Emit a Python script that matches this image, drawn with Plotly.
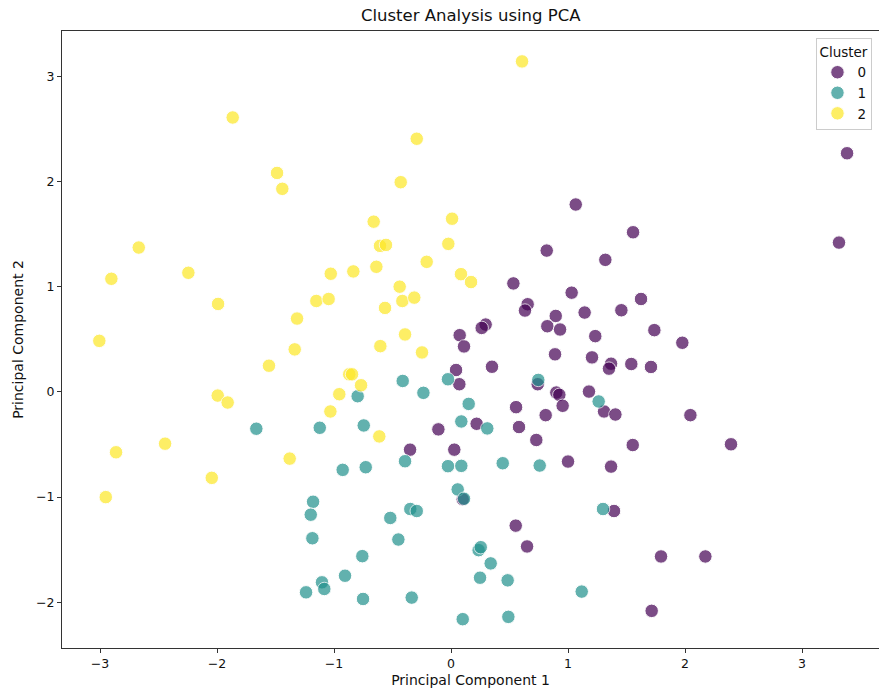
import plotly.graph_objects as go

# Cluster 0 (purple)
c0_x = [0.074, 0.111, 0.889, 1.205, 1.233, 1.368, 1.350, 0.350, 0.043, 0.071,
        0.741, 0.900, 0.926, 0.954, 1.179, 1.308, 1.405, 0.556, 0.809, 0.581,
        0.219, -0.108, 0.729, -0.350, 0.028, 1.000, 1.368, 1.393, 0.553, 0.650,
        0.100, 1.977, 1.541, 1.709, 2.046, 1.553, 2.393, 1.795, 2.174, 1.715,
        3.385, 3.316, 1.556, 1.319, 1.624, 1.456, 1.738, 1.066, 0.818, 0.533,
        1.031, 0.655, 0.632, 0.895, 0.823, 0.932, 1.142, 0.296, 0.262]
c0_y = [0.539, 0.432, 0.357, 0.328, 0.530, 0.268, 0.221, 0.239, 0.208, 0.073,
        0.073, -0.006, -0.028, -0.132, 0.003, -0.186, -0.215, -0.145, -0.221, -0.334,
        -0.303, -0.356, -0.457, -0.549, -0.549, -0.662, -0.710, -1.132, -1.271, -1.469,
        -1.020, 0.467, 0.265, 0.237, -0.221, -0.505, -0.498, -1.564, -1.564, -2.081,
        2.268, 1.419, 1.517, 1.255, 0.883, 0.776, 0.587, 1.781, 1.343, 1.031,
        0.943, 0.833, 0.773, 0.722, 0.624, 0.593, 0.754, 0.640, 0.608]

# Cluster 1 (teal)
c1_x = [-0.798, -1.664, -1.122, -0.746, -0.926, -0.729, -1.179, -1.199, -1.185, -0.906,
        -1.103, -1.083, -1.239, -0.752, -0.758, -0.413, -0.236, -0.026, 0.151, 0.088,
        0.310, -0.393, -0.026, 0.088, 0.442, 0.758, 0.746, 1.262, 0.057, 0.111,
        -0.348, -0.293, -0.519, -0.450, -0.336, 0.236, 0.254, 0.339, 0.248, 0.484,
        0.100, 0.490, 1.117, 1.299]
c1_y = [-0.041, -0.350, -0.341, -0.319, -0.741, -0.716, -1.044, -1.167, -1.391, -1.747,
        -1.810, -1.873, -1.905, -1.968, -1.561, 0.104, -0.009, 0.120, -0.114, -0.281,
        -0.347, -0.659, -0.706, -0.703, -0.678, -0.700, 0.114, -0.091, -0.927, -1.015,
        -1.113, -1.132, -1.198, -1.403, -1.955, -1.504, -1.476, -1.630, -1.766, -1.791,
        -2.160, -2.138, -1.898, -1.113]

# Cluster 2 (yellow)
c2_x = [-1.866, -1.487, -1.442, -2.669, -2.903, -2.245, -1.991, -1.316, -1.151, -1.046,
        -1.028, -0.835, -3.006, -1.336, -1.556, -0.870, -0.846, -0.769, -1.994, -1.909,
        -0.955, -1.031, -2.863, -2.444, -1.379, -2.045, -2.951, -0.393, -0.604, -0.248,
        -0.613, 0.607, -0.293, -0.430, -0.661, 0.009, -0.607, -0.556, -0.023, -0.638,
        -0.208, 0.085, 0.171, -0.439, -0.416, -0.314, -0.564]
c2_y = [2.608, 2.081, 1.930, 1.372, 1.075, 1.132, 0.836, 0.697, 0.864, 0.883,
        1.123, 1.145, 0.485, 0.404, 0.249, 0.167, 0.167, 0.063, -0.035, -0.101,
        -0.022, -0.186, -0.574, -0.492, -0.634, -0.817, -1.000, 0.546, 0.435, 0.375,
        -0.423, 3.141, 2.406, 1.993, 1.618, 1.646, 1.388, 1.397, 1.407, 1.189,
        1.236, 1.119, 1.044, 1.000, 0.864, 0.896, 0.798]

cluster_names = ["0", "1", "2"]
cluster_colors = ["#440154", "#21918c", "#fde725"]
xs = [c0_x, c1_x, c2_x]
ys = [c0_y, c1_y, c2_y]

FONT = "DejaVu Sans"
fig = go.Figure()
for name, color, x, y in zip(cluster_names, cluster_colors, xs, ys):
    fig.add_trace(go.Scatter(
        x=x, y=y, mode="markers", name=name,
        marker=dict(size=13.5, color=color, opacity=0.7,
                    line=dict(color="white", width=1)),
    ))

axis_common = dict(
    showgrid=False, zeroline=False, showline=True, mirror=True,
    linecolor="#333333", linewidth=1, ticks="outside", ticklen=4,
    tickcolor="#333333", tickfont=dict(family=FONT, size=12.5, color="#111111"),
)

fig.update_layout(
    width=879, height=691,
    margin=dict(l=62, r=0, t=31, b=43),
    plot_bgcolor="white", paper_bgcolor="white",
    font=dict(family=FONT, color="#111111"),
    title=dict(text="Cluster Analysis using PCA", x=0.5355, xanchor="center",
               y=0.978, yanchor="middle", font=dict(family=FONT, size=16.5, color="#111111")),
    xaxis=dict(range=[-3.325, 3.658], dtick=1,
               title=dict(text="Principal Component 1", standoff=5,
                          font=dict(family=FONT, size=14, color="#111111")),
               **axis_common),
    yaxis=dict(range=[-2.434, 3.43], dtick=1,
               title=dict(text="Principal Component 2", standoff=9,
                          font=dict(family=FONT, size=14, color="#111111")),
               **axis_common),
    legend=dict(title=dict(text="Cluster", font=dict(family=FONT, size=13.5)),
                x=0.992, y=0.988, xanchor="right", yanchor="top",
                bgcolor="white", bordercolor="#cccccc", borderwidth=1,
                font=dict(family=FONT, size=13.5), itemsizing="trace"),
)

fig.write_html("out.html", config={"displayModeBar": False},
               post_script="document.body.style.margin='0';document.body.style.overflow='hidden';")
